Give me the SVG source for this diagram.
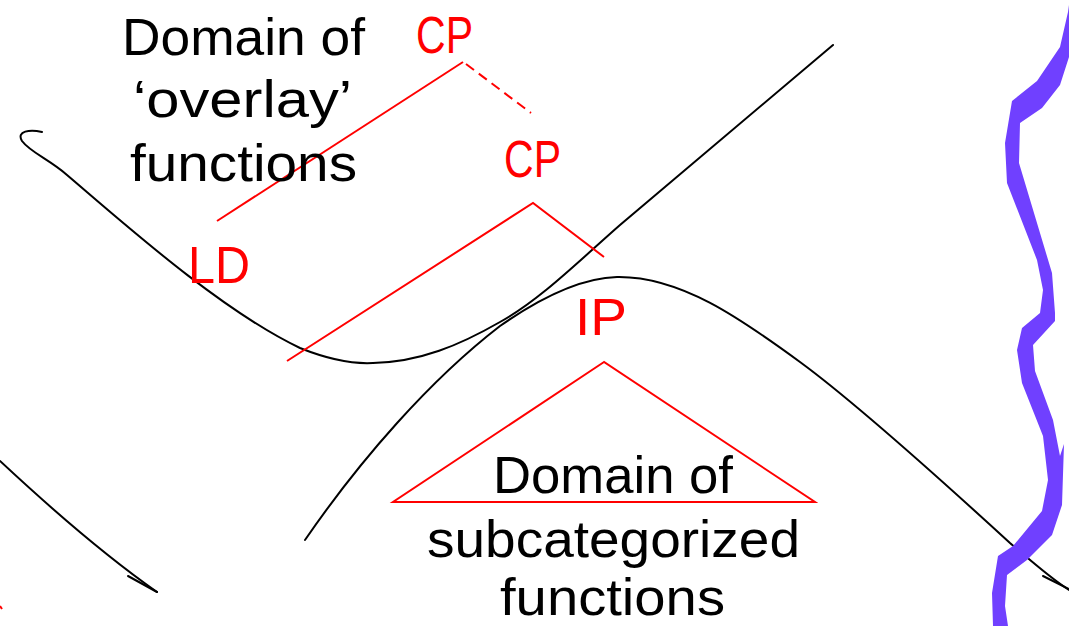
<svg xmlns="http://www.w3.org/2000/svg" width="1069" height="626" viewBox="0 0 1069 626">
<style>
.t{font-family:"Liberation Sans","Noto Sans",sans-serif;font-size:52px;}
.k{fill:#000;}
.r{fill:#ff0000;}
.rl{stroke:#ff0000;stroke-width:2;fill:none;}
.bl{stroke:#000;stroke-width:2;fill:none;stroke-linecap:round;}
</style>
<rect width="1069" height="626" fill="#fff"/>
<g id="connectors">
<path class="bl" d="M42,132 C30,129 16,131 22,141 C30,152 50,160 67,175 C120,220 220,310 300,348 C330,360 355,364 373,363 C420,362 460,345 500,322 C540,300 580,260 620,225 L833,45"/>
<path class="bl" d="M305,540 C360,460 430,380 500,326 C540,298 580,278 617,277 C680,276 740,318 800,362 C860,406 950,488 1010,543 C1030,560 1050,578 1069,590"/>
<path class="bl" d="M1043,576 L1069,589"/>
<path class="bl" d="M0,461 Q90,545 157,592"/>
<path class="bl" d="M128,576 L157,592"/>
<path class="rl" d="M217,221 L463,62"/>
<path class="rl" d="M466,64 L531,113" stroke-dasharray="10,6"/>
<path class="rl" d="M287,361 L533,203 L604,257"/>
<path class="rl" d="M0,606 L2,609"/>
</g>
<g id="band">
<polygon fill="#7040ff" points="1069,5 1068,12 1060,47 1037,81 1012,101 1005,143 1007,183 1037,260 1043,290 1040,313 1022,328 1017,350 1022,383 1043,436 1048,480 1042,511 1013,546 998,556 992,593 993,626 1008,626 1005,606 1007,575 1027,560 1052,535 1062,505 1064,444 1060,456 1053,420 1035,371 1033,345 1055,321 1055,313 1052,273 1019,163 1020,123 1042,108 1060,85 1069,57"/>
</g>
<g id="overlay-text">
<text class="t k" x="122" y="55" textLength="243" lengthAdjust="spacingAndGlyphs">Domain of</text>
<text class="t k" x="133" y="117" textLength="219" lengthAdjust="spacingAndGlyphs">‘overlay’</text>
<text class="t k" x="130" y="181" textLength="227" lengthAdjust="spacingAndGlyphs">functions</text>
</g>
<g id="cp1"><text class="t r" x="416" y="53" textLength="57" lengthAdjust="spacingAndGlyphs">CP</text></g>
<g id="cp2"><text class="t r" x="504" y="177" textLength="57" lengthAdjust="spacingAndGlyphs">CP</text></g>
<g id="ld"><text class="t r" x="188" y="283" textLength="62" lengthAdjust="spacingAndGlyphs">LD</text></g>
<g id="ip">
<text class="t r" x="575" y="335" textLength="52" lengthAdjust="spacingAndGlyphs">IP</text>
<polygon class="rl" points="604,362 393,502 815,502"/>
</g>
<g id="subcat-text">
<text class="t k" x="493" y="493" textLength="240" lengthAdjust="spacingAndGlyphs">Domain of</text>
<text class="t k" x="427" y="557" textLength="373" lengthAdjust="spacingAndGlyphs">subcategorized</text>
<text class="t k" x="500" y="615" font-size="50" textLength="225" lengthAdjust="spacingAndGlyphs">functions</text>
</g>
</svg>
